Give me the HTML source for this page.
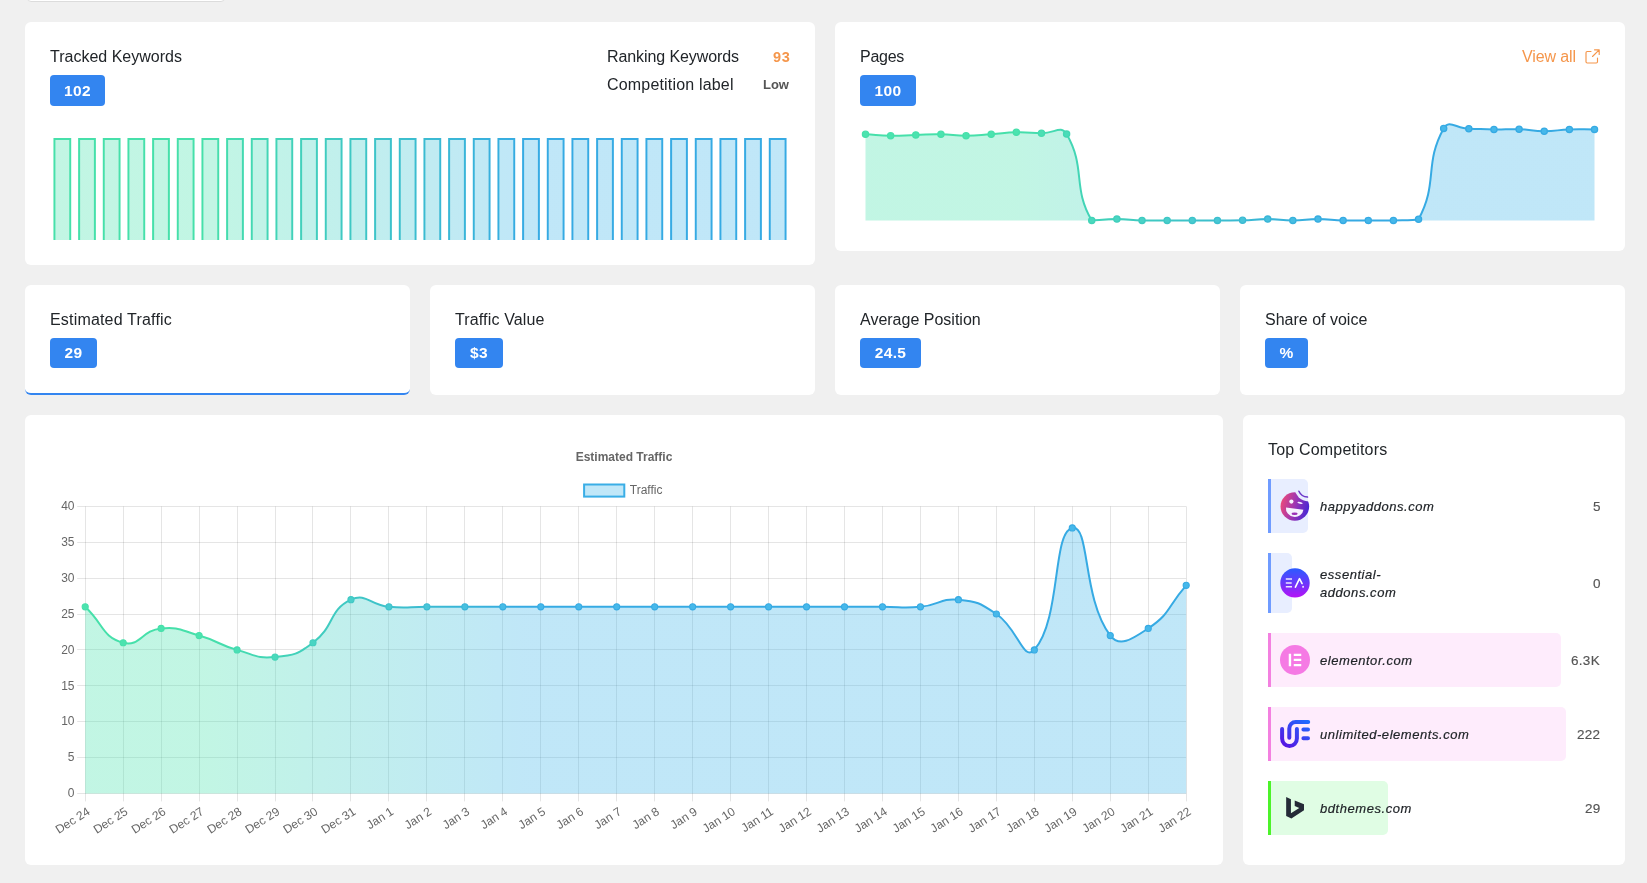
<!DOCTYPE html><html><head><meta charset="utf-8"><title>Dashboard</title><style>
*{box-sizing:border-box}
html,body{margin:0;padding:0}
body{width:1647px;height:883px;overflow:hidden;background:#f0f0f0;font-family:"Liberation Sans",sans-serif;color:#212529;position:relative}
.abs{position:absolute}
.t,.dom,.num,.badge,svg,.abs{will-change:transform}
.card{position:absolute;background:#fff;border-radius:6px}
.t{position:absolute;font-size:16px;line-height:20px;white-space:nowrap;color:#212529}
.badge{position:absolute;height:31px;background:#3385f0;border-radius:4px;color:#fff;font-weight:bold;font-size:15.5px;line-height:31px;text-align:center;letter-spacing:.3px}
.row{position:absolute;left:1268px;border-left:3px solid;border-radius:0 5px 5px 0}
.dom{position:absolute;left:1320px;font-size:13px;font-style:italic;line-height:18px;color:#212529;letter-spacing:.55px;white-space:nowrap;-webkit-text-stroke:.2px #212529}
.num{position:absolute;right:46.7px;font-size:13.5px;line-height:18px;color:#555;letter-spacing:.3px;-webkit-text-stroke:.15px #555;white-space:nowrap;text-align:right}
</style></head><body><div class="abs" style="left:27px;top:-30px;width:198px;height:32px;background:#fff;border:1px solid #dcdcdc;border-radius:4px"></div><div class="card" style="left:25px;top:22px;width:790px;height:243px"></div><div class="card" style="left:835px;top:22px;width:790px;height:229px"></div><div class="card" style="left:25px;top:285px;width:385px;height:110px;border-bottom:2px solid #3385f0"></div><div class="card" style="left:430px;top:285px;width:385px;height:110px"></div><div class="card" style="left:835px;top:285px;width:385px;height:110px"></div><div class="card" style="left:1240px;top:285px;width:385px;height:110px"></div><div class="card" style="left:25px;top:415px;width:1198px;height:450px"></div><div class="card" style="left:1243px;top:415px;width:382px;height:450px"></div><div class="t" style="left:50px;top:47px">Tracked Keywords</div><div class="badge" style="left:50px;top:75px;width:55px;height:31px;line-height:31px">102</div><div class="t" style="left:607px;top:47px;letter-spacing:-.09px">Ranking Keywords</div><div class="t" style="left:607px;top:75px;letter-spacing:.18px">Competition label</div><div class="abs" style="right:857.6px;top:49px;font-size:14.5px;line-height:16px;font-weight:bold;color:#f5964b;letter-spacing:.7px;margin-right:-.7px">93</div><div class="abs" style="right:857.8px;top:77px;font-size:13px;line-height:16px;font-weight:bold;color:#555;letter-spacing:-.05px">Low</div><svg class="abs" style="left:50px;top:125px" width="740" height="120" viewBox="50 125 740 120"><defs><linearGradient id="bl" gradientUnits="userSpaceOnUse" x1="205" y1="0" x2="525" y2="0"><stop offset="0" stop-color="#46e0aa"/><stop offset="1" stop-color="#36aae3"/></linearGradient><linearGradient id="bf" gradientUnits="userSpaceOnUse" x1="205" y1="0" x2="525" y2="0"><stop offset="0" stop-color="#4be3af"/><stop offset="1" stop-color="#46b8ea"/></linearGradient></defs><path fill-rule="evenodd" d="M53.45,138.00 H71.21 V240.00 H53.45 Z M55.45,140.00 H69.21 V240.00 H55.45 Z" fill="url(#bl)"/><rect x="55.12" y="139.67" width="14.42" height="100.33" fill="url(#bf)" fill-opacity="0.34"/><path fill-rule="evenodd" d="M78.12,138.00 H95.88 V240.00 H78.12 Z M80.12,140.00 H93.88 V240.00 H80.12 Z" fill="url(#bl)"/><rect x="79.79" y="139.67" width="14.42" height="100.33" fill="url(#bf)" fill-opacity="0.34"/><path fill-rule="evenodd" d="M102.79,138.00 H120.55 V240.00 H102.79 Z M104.79,140.00 H118.55 V240.00 H104.79 Z" fill="url(#bl)"/><rect x="104.46" y="139.67" width="14.42" height="100.33" fill="url(#bf)" fill-opacity="0.34"/><path fill-rule="evenodd" d="M127.45,138.00 H145.21 V240.00 H127.45 Z M129.45,140.00 H143.21 V240.00 H129.45 Z" fill="url(#bl)"/><rect x="129.12" y="139.67" width="14.42" height="100.33" fill="url(#bf)" fill-opacity="0.34"/><path fill-rule="evenodd" d="M152.12,138.00 H169.88 V240.00 H152.12 Z M154.12,140.00 H167.88 V240.00 H154.12 Z" fill="url(#bl)"/><rect x="153.79" y="139.67" width="14.42" height="100.33" fill="url(#bf)" fill-opacity="0.34"/><path fill-rule="evenodd" d="M176.79,138.00 H194.55 V240.00 H176.79 Z M178.79,140.00 H192.55 V240.00 H178.79 Z" fill="url(#bl)"/><rect x="178.46" y="139.67" width="14.42" height="100.33" fill="url(#bf)" fill-opacity="0.34"/><path fill-rule="evenodd" d="M201.45,138.00 H219.21 V240.00 H201.45 Z M203.45,140.00 H217.21 V240.00 H203.45 Z" fill="url(#bl)"/><rect x="203.12" y="139.67" width="14.42" height="100.33" fill="url(#bf)" fill-opacity="0.34"/><path fill-rule="evenodd" d="M226.12,138.00 H243.88 V240.00 H226.12 Z M228.12,140.00 H241.88 V240.00 H228.12 Z" fill="url(#bl)"/><rect x="227.79" y="139.67" width="14.42" height="100.33" fill="url(#bf)" fill-opacity="0.34"/><path fill-rule="evenodd" d="M250.79,138.00 H268.55 V240.00 H250.79 Z M252.79,140.00 H266.55 V240.00 H252.79 Z" fill="url(#bl)"/><rect x="252.46" y="139.67" width="14.42" height="100.33" fill="url(#bf)" fill-opacity="0.34"/><path fill-rule="evenodd" d="M275.45,138.00 H293.21 V240.00 H275.45 Z M277.45,140.00 H291.21 V240.00 H277.45 Z" fill="url(#bl)"/><rect x="277.12" y="139.67" width="14.42" height="100.33" fill="url(#bf)" fill-opacity="0.34"/><path fill-rule="evenodd" d="M300.12,138.00 H317.88 V240.00 H300.12 Z M302.12,140.00 H315.88 V240.00 H302.12 Z" fill="url(#bl)"/><rect x="301.79" y="139.67" width="14.42" height="100.33" fill="url(#bf)" fill-opacity="0.34"/><path fill-rule="evenodd" d="M324.79,138.00 H342.55 V240.00 H324.79 Z M326.79,140.00 H340.55 V240.00 H326.79 Z" fill="url(#bl)"/><rect x="326.46" y="139.67" width="14.42" height="100.33" fill="url(#bf)" fill-opacity="0.34"/><path fill-rule="evenodd" d="M349.45,138.00 H367.21 V240.00 H349.45 Z M351.45,140.00 H365.21 V240.00 H351.45 Z" fill="url(#bl)"/><rect x="351.12" y="139.67" width="14.42" height="100.33" fill="url(#bf)" fill-opacity="0.34"/><path fill-rule="evenodd" d="M374.12,138.00 H391.88 V240.00 H374.12 Z M376.12,140.00 H389.88 V240.00 H376.12 Z" fill="url(#bl)"/><rect x="375.79" y="139.67" width="14.42" height="100.33" fill="url(#bf)" fill-opacity="0.34"/><path fill-rule="evenodd" d="M398.79,138.00 H416.55 V240.00 H398.79 Z M400.79,140.00 H414.55 V240.00 H400.79 Z" fill="url(#bl)"/><rect x="400.46" y="139.67" width="14.42" height="100.33" fill="url(#bf)" fill-opacity="0.34"/><path fill-rule="evenodd" d="M423.45,138.00 H441.21 V240.00 H423.45 Z M425.45,140.00 H439.21 V240.00 H425.45 Z" fill="url(#bl)"/><rect x="425.12" y="139.67" width="14.42" height="100.33" fill="url(#bf)" fill-opacity="0.34"/><path fill-rule="evenodd" d="M448.12,138.00 H465.88 V240.00 H448.12 Z M450.12,140.00 H463.88 V240.00 H450.12 Z" fill="url(#bl)"/><rect x="449.79" y="139.67" width="14.42" height="100.33" fill="url(#bf)" fill-opacity="0.34"/><path fill-rule="evenodd" d="M472.79,138.00 H490.55 V240.00 H472.79 Z M474.79,140.00 H488.55 V240.00 H474.79 Z" fill="url(#bl)"/><rect x="474.46" y="139.67" width="14.42" height="100.33" fill="url(#bf)" fill-opacity="0.34"/><path fill-rule="evenodd" d="M497.45,138.00 H515.21 V240.00 H497.45 Z M499.45,140.00 H513.21 V240.00 H499.45 Z" fill="url(#bl)"/><rect x="499.12" y="139.67" width="14.42" height="100.33" fill="url(#bf)" fill-opacity="0.34"/><path fill-rule="evenodd" d="M522.12,138.00 H539.88 V240.00 H522.12 Z M524.12,140.00 H537.88 V240.00 H524.12 Z" fill="url(#bl)"/><rect x="523.79" y="139.67" width="14.42" height="100.33" fill="url(#bf)" fill-opacity="0.34"/><path fill-rule="evenodd" d="M546.79,138.00 H564.55 V240.00 H546.79 Z M548.79,140.00 H562.55 V240.00 H548.79 Z" fill="url(#bl)"/><rect x="548.46" y="139.67" width="14.42" height="100.33" fill="url(#bf)" fill-opacity="0.34"/><path fill-rule="evenodd" d="M571.45,138.00 H589.21 V240.00 H571.45 Z M573.45,140.00 H587.21 V240.00 H573.45 Z" fill="url(#bl)"/><rect x="573.12" y="139.67" width="14.42" height="100.33" fill="url(#bf)" fill-opacity="0.34"/><path fill-rule="evenodd" d="M596.12,138.00 H613.88 V240.00 H596.12 Z M598.12,140.00 H611.88 V240.00 H598.12 Z" fill="url(#bl)"/><rect x="597.79" y="139.67" width="14.42" height="100.33" fill="url(#bf)" fill-opacity="0.34"/><path fill-rule="evenodd" d="M620.79,138.00 H638.55 V240.00 H620.79 Z M622.79,140.00 H636.55 V240.00 H622.79 Z" fill="url(#bl)"/><rect x="622.46" y="139.67" width="14.42" height="100.33" fill="url(#bf)" fill-opacity="0.34"/><path fill-rule="evenodd" d="M645.45,138.00 H663.21 V240.00 H645.45 Z M647.45,140.00 H661.21 V240.00 H647.45 Z" fill="url(#bl)"/><rect x="647.12" y="139.67" width="14.42" height="100.33" fill="url(#bf)" fill-opacity="0.34"/><path fill-rule="evenodd" d="M670.12,138.00 H687.88 V240.00 H670.12 Z M672.12,140.00 H685.88 V240.00 H672.12 Z" fill="url(#bl)"/><rect x="671.79" y="139.67" width="14.42" height="100.33" fill="url(#bf)" fill-opacity="0.34"/><path fill-rule="evenodd" d="M694.79,138.00 H712.55 V240.00 H694.79 Z M696.79,140.00 H710.55 V240.00 H696.79 Z" fill="url(#bl)"/><rect x="696.46" y="139.67" width="14.42" height="100.33" fill="url(#bf)" fill-opacity="0.34"/><path fill-rule="evenodd" d="M719.45,138.00 H737.21 V240.00 H719.45 Z M721.45,140.00 H735.21 V240.00 H721.45 Z" fill="url(#bl)"/><rect x="721.12" y="139.67" width="14.42" height="100.33" fill="url(#bf)" fill-opacity="0.34"/><path fill-rule="evenodd" d="M744.12,138.00 H761.88 V240.00 H744.12 Z M746.12,140.00 H759.88 V240.00 H746.12 Z" fill="url(#bl)"/><rect x="745.79" y="139.67" width="14.42" height="100.33" fill="url(#bf)" fill-opacity="0.34"/><path fill-rule="evenodd" d="M768.79,138.00 H786.55 V240.00 H768.79 Z M770.79,140.00 H784.55 V240.00 H770.79 Z" fill="url(#bl)"/><rect x="770.46" y="139.67" width="14.42" height="100.33" fill="url(#bf)" fill-opacity="0.34"/></svg><div class="t" style="left:860px;top:47px;letter-spacing:-.25px">Pages</div><div class="badge" style="left:860px;top:75px;width:56px;height:31px;line-height:31px">100</div><div class="t" style="left:1522px;top:47px;color:#f5964b;letter-spacing:-.12px">View all</div><svg class="abs" style="left:1584px;top:48px" width="17" height="17" viewBox="0 0 17 17" fill="none" stroke="#f5964b" stroke-width="1.15" stroke-linecap="round" stroke-linejoin="round"><path d="M7 3.5H3.2C2.5 3.5 2 4 2 4.7v9.1C2 14.5 2.5 15 3.2 15h9.1c.7 0 1.2-.5 1.2-1.200V10"/><path d="M10.500 1.800h4.700v4.700M15.200 1.800L8.500 8.500"/></svg><svg class="abs" style="left:855px;top:110px" width="750" height="125" viewBox="855 110 750 125"><defs><linearGradient id="pl" gradientUnits="userSpaceOnUse" x1="1015" y1="0" x2="1335" y2="0"><stop offset="0" stop-color="#46e0aa"/><stop offset="1" stop-color="#36aae3"/></linearGradient><linearGradient id="pf" gradientUnits="userSpaceOnUse" x1="1015" y1="0" x2="1335" y2="0"><stop offset="0" stop-color="#4be3af"/><stop offset="1" stop-color="#46b8ea"/></linearGradient></defs><path d="M865.50,134.30 C878.07,135.05 878.06,135.65 890.64,135.80 C903.20,135.95 903.20,135.28 915.78,134.90 C928.34,134.53 928.35,134.08 940.91,134.30 C953.49,134.53 953.48,135.80 966.05,135.80 C978.62,135.80 978.63,135.17 991.19,134.30 C1003.77,133.42 1003.74,132.58 1016.33,132.30 C1028.88,132.03 1028.90,132.75 1041.47,133.20 C1054.03,133.65 1061.11,124.57 1066.60,134.10 C1086.24,168.17 1072.10,187.20 1091.74,220.40 C1097.24,220.40 1104.31,219.10 1116.88,219.10 C1129.45,219.10 1129.44,220.07 1142.02,220.40 C1154.58,220.40 1154.59,220.40 1167.16,220.40 C1179.72,220.40 1179.72,220.40 1192.29,220.40 C1204.86,220.40 1204.86,220.40 1217.43,220.40 C1230.00,220.37 1230.01,220.40 1242.57,220.30 C1255.15,219.97 1255.14,219.08 1267.71,219.10 C1280.28,219.13 1280.28,220.40 1292.84,220.40 C1305.41,220.40 1305.41,219.10 1317.98,219.10 C1330.55,219.10 1330.54,220.07 1343.12,220.40 C1355.68,220.40 1355.69,220.40 1368.26,220.40 C1380.83,220.40 1380.83,220.40 1393.40,220.40 C1405.97,220.10 1413.24,220.40 1418.53,219.20 C1438.37,182.90 1423.83,164.12 1443.67,128.40 C1448.97,118.87 1456.24,128.43 1468.81,128.70 C1481.38,128.98 1481.38,129.35 1493.95,129.50 C1506.51,129.65 1506.53,128.88 1519.09,129.30 C1531.67,129.73 1531.65,131.17 1544.22,131.20 C1556.79,131.22 1556.78,129.85 1569.36,129.40 C1581.91,128.95 1581.93,129.40 1594.50,129.40 L1594.50,220.40 L865.50,220.40 Z" fill="url(#pf)" fill-opacity="0.34"/><path d="M865.50,134.30 C878.07,135.05 878.06,135.65 890.64,135.80 C903.20,135.95 903.20,135.28 915.78,134.90 C928.34,134.53 928.35,134.08 940.91,134.30 C953.49,134.53 953.48,135.80 966.05,135.80 C978.62,135.80 978.63,135.17 991.19,134.30 C1003.77,133.42 1003.74,132.58 1016.33,132.30 C1028.88,132.03 1028.90,132.75 1041.47,133.20 C1054.03,133.65 1061.11,124.57 1066.60,134.10 C1086.24,168.17 1072.10,187.20 1091.74,220.40 C1097.24,220.40 1104.31,219.10 1116.88,219.10 C1129.45,219.10 1129.44,220.07 1142.02,220.40 C1154.58,220.40 1154.59,220.40 1167.16,220.40 C1179.72,220.40 1179.72,220.40 1192.29,220.40 C1204.86,220.40 1204.86,220.40 1217.43,220.40 C1230.00,220.37 1230.01,220.40 1242.57,220.30 C1255.15,219.97 1255.14,219.08 1267.71,219.10 C1280.28,219.13 1280.28,220.40 1292.84,220.40 C1305.41,220.40 1305.41,219.10 1317.98,219.10 C1330.55,219.10 1330.54,220.07 1343.12,220.40 C1355.68,220.40 1355.69,220.40 1368.26,220.40 C1380.83,220.40 1380.83,220.40 1393.40,220.40 C1405.97,220.10 1413.24,220.40 1418.53,219.20 C1438.37,182.90 1423.83,164.12 1443.67,128.40 C1448.97,118.87 1456.24,128.43 1468.81,128.70 C1481.38,128.98 1481.38,129.35 1493.95,129.50 C1506.51,129.65 1506.53,128.88 1519.09,129.30 C1531.67,129.73 1531.65,131.17 1544.22,131.20 C1556.79,131.22 1556.78,129.85 1569.36,129.40 C1581.91,128.95 1581.93,129.40 1594.50,129.40" fill="none" stroke="url(#pl)" stroke-width="2" stroke-linejoin="round"/><circle cx="865.50" cy="134.30" r="3.1" fill="url(#pf)" stroke="url(#pl)" stroke-width="1.3"/><circle cx="890.64" cy="135.80" r="3.1" fill="url(#pf)" stroke="url(#pl)" stroke-width="1.3"/><circle cx="915.78" cy="134.90" r="3.1" fill="url(#pf)" stroke="url(#pl)" stroke-width="1.3"/><circle cx="940.91" cy="134.30" r="3.1" fill="url(#pf)" stroke="url(#pl)" stroke-width="1.3"/><circle cx="966.05" cy="135.80" r="3.1" fill="url(#pf)" stroke="url(#pl)" stroke-width="1.3"/><circle cx="991.19" cy="134.30" r="3.1" fill="url(#pf)" stroke="url(#pl)" stroke-width="1.3"/><circle cx="1016.33" cy="132.30" r="3.1" fill="url(#pf)" stroke="url(#pl)" stroke-width="1.3"/><circle cx="1041.47" cy="133.20" r="3.1" fill="url(#pf)" stroke="url(#pl)" stroke-width="1.3"/><circle cx="1066.60" cy="134.10" r="3.1" fill="url(#pf)" stroke="url(#pl)" stroke-width="1.3"/><circle cx="1091.74" cy="220.40" r="3.1" fill="url(#pf)" stroke="url(#pl)" stroke-width="1.3"/><circle cx="1116.88" cy="219.10" r="3.1" fill="url(#pf)" stroke="url(#pl)" stroke-width="1.3"/><circle cx="1142.02" cy="220.40" r="3.1" fill="url(#pf)" stroke="url(#pl)" stroke-width="1.3"/><circle cx="1167.16" cy="220.40" r="3.1" fill="url(#pf)" stroke="url(#pl)" stroke-width="1.3"/><circle cx="1192.29" cy="220.40" r="3.1" fill="url(#pf)" stroke="url(#pl)" stroke-width="1.3"/><circle cx="1217.43" cy="220.40" r="3.1" fill="url(#pf)" stroke="url(#pl)" stroke-width="1.3"/><circle cx="1242.57" cy="220.30" r="3.1" fill="url(#pf)" stroke="url(#pl)" stroke-width="1.3"/><circle cx="1267.71" cy="219.10" r="3.1" fill="url(#pf)" stroke="url(#pl)" stroke-width="1.3"/><circle cx="1292.84" cy="220.40" r="3.1" fill="url(#pf)" stroke="url(#pl)" stroke-width="1.3"/><circle cx="1317.98" cy="219.10" r="3.1" fill="url(#pf)" stroke="url(#pl)" stroke-width="1.3"/><circle cx="1343.12" cy="220.40" r="3.1" fill="url(#pf)" stroke="url(#pl)" stroke-width="1.3"/><circle cx="1368.26" cy="220.40" r="3.1" fill="url(#pf)" stroke="url(#pl)" stroke-width="1.3"/><circle cx="1393.40" cy="220.40" r="3.1" fill="url(#pf)" stroke="url(#pl)" stroke-width="1.3"/><circle cx="1418.53" cy="219.20" r="3.1" fill="url(#pf)" stroke="url(#pl)" stroke-width="1.3"/><circle cx="1443.67" cy="128.40" r="3.1" fill="url(#pf)" stroke="url(#pl)" stroke-width="1.3"/><circle cx="1468.81" cy="128.70" r="3.1" fill="url(#pf)" stroke="url(#pl)" stroke-width="1.3"/><circle cx="1493.95" cy="129.50" r="3.1" fill="url(#pf)" stroke="url(#pl)" stroke-width="1.3"/><circle cx="1519.09" cy="129.30" r="3.1" fill="url(#pf)" stroke="url(#pl)" stroke-width="1.3"/><circle cx="1544.22" cy="131.20" r="3.1" fill="url(#pf)" stroke="url(#pl)" stroke-width="1.3"/><circle cx="1569.36" cy="129.40" r="3.1" fill="url(#pf)" stroke="url(#pl)" stroke-width="1.3"/><circle cx="1594.50" cy="129.40" r="3.1" fill="url(#pf)" stroke="url(#pl)" stroke-width="1.3"/></svg><div class="t" style="left:50px;top:310px;letter-spacing:.18px">Estimated Traffic</div><div class="badge" style="left:50px;top:338px;width:47px;height:30px;line-height:30px">29</div><div class="t" style="left:455px;top:310px;letter-spacing:.14px">Traffic Value</div><div class="badge" style="left:455px;top:338px;width:48px;height:30px;line-height:30px">$3</div><div class="t" style="left:860px;top:310px">Average Position</div><div class="badge" style="left:860px;top:338px;width:61px;height:30px;line-height:30px">24.5</div><div class="t" style="left:1265px;top:310px">Share of voice</div><div class="badge" style="left:1265px;top:338px;width:43px;height:30px;line-height:30px">%</div><svg class="abs" style="left:50px;top:440px" width="1148" height="400" viewBox="50 440 1148 400" font-family="Liberation Sans, sans-serif"><defs><linearGradient id="ml" gradientUnits="userSpaceOnUse" x1="205" y1="0" x2="525" y2="0"><stop offset="0" stop-color="#46e0aa"/><stop offset="1" stop-color="#36aae3"/></linearGradient><linearGradient id="mf" gradientUnits="userSpaceOnUse" x1="205" y1="0" x2="525" y2="0"><stop offset="0" stop-color="#4be3af"/><stop offset="1" stop-color="#46b8ea"/></linearGradient></defs><text x="624" y="457.4" text-anchor="middle" dominant-baseline="middle" font-size="12" font-weight="bold" fill="#666">Estimated Traffic</text><rect x="584.1" y="484.5" width="40.2" height="12.100" fill="#46b8ea" fill-opacity="0.34"/><rect x="584.1" y="484.5" width="40.2" height="12.100" fill="none" stroke="#3aaee6" stroke-width="2"/><text x="629.8" y="490.6" dominant-baseline="middle" font-size="12" fill="#666">Traffic</text><path d="M85.5,506.4 V801.4 M123.5,506.4 V801.4 M161.5,506.4 V801.4 M199.5,506.4 V801.4 M237.5,506.4 V801.4 M275.5,506.4 V801.4 M312.5,506.4 V801.4 M350.5,506.4 V801.4 M388.5,506.4 V801.4 M426.5,506.4 V801.4 M464.5,506.4 V801.4 M502.5,506.4 V801.4 M540.5,506.4 V801.4 M578.5,506.4 V801.4 M616.5,506.4 V801.4 M654.5,506.4 V801.4 M692.5,506.4 V801.4 M730.5,506.4 V801.4 M768.5,506.4 V801.4 M806.5,506.4 V801.4 M844.5,506.4 V801.4 M882.5,506.4 V801.4 M920.5,506.4 V801.4 M958.5,506.4 V801.4 M996.5,506.4 V801.4 M1034.5,506.4 V801.4 M1072.5,506.4 V801.4 M1110.5,506.4 V801.4 M1148.5,506.4 V801.4 M1186.5,506.4 V801.4 M77.2,793.5 H1186.2 M77.2,757.5 H1186.2 M77.2,721.5 H1186.2 M77.2,685.5 H1186.2 M77.2,649.5 H1186.2 M77.2,614.5 H1186.2 M77.2,578.5 H1186.2 M77.2,542.5 H1186.2 M77.2,506.5 H1186.2 " stroke="rgba(0,0,0,0.1)" stroke-width="1" fill="none"/><text x="74.5" y="794.0" text-anchor="end" dominant-baseline="middle" font-size="12" fill="#666">0</text><text x="74.5" y="758.1" text-anchor="end" dominant-baseline="middle" font-size="12" fill="#666">5</text><text x="74.5" y="722.2" text-anchor="end" dominant-baseline="middle" font-size="12" fill="#666">10</text><text x="74.5" y="686.4" text-anchor="end" dominant-baseline="middle" font-size="12" fill="#666">15</text><text x="74.5" y="650.5" text-anchor="end" dominant-baseline="middle" font-size="12" fill="#666">20</text><text x="74.5" y="614.6" text-anchor="end" dominant-baseline="middle" font-size="12" fill="#666">25</text><text x="74.5" y="578.8" text-anchor="end" dominant-baseline="middle" font-size="12" fill="#666">30</text><text x="74.5" y="542.9" text-anchor="end" dominant-baseline="middle" font-size="12" fill="#666">35</text><text x="74.5" y="507.0" text-anchor="end" dominant-baseline="middle" font-size="12" fill="#666">40</text><text transform="translate(85.20,804.90) rotate(-32.5)" x="0" y="7.2" text-anchor="end" dominant-baseline="middle" font-size="12" fill="#666">Dec 24</text><text transform="translate(123.17,804.90) rotate(-32.5)" x="0" y="7.2" text-anchor="end" dominant-baseline="middle" font-size="12" fill="#666">Dec 25</text><text transform="translate(161.13,804.90) rotate(-32.5)" x="0" y="7.2" text-anchor="end" dominant-baseline="middle" font-size="12" fill="#666">Dec 26</text><text transform="translate(199.10,804.90) rotate(-32.5)" x="0" y="7.2" text-anchor="end" dominant-baseline="middle" font-size="12" fill="#666">Dec 27</text><text transform="translate(237.06,804.90) rotate(-32.5)" x="0" y="7.2" text-anchor="end" dominant-baseline="middle" font-size="12" fill="#666">Dec 28</text><text transform="translate(275.03,804.90) rotate(-32.5)" x="0" y="7.2" text-anchor="end" dominant-baseline="middle" font-size="12" fill="#666">Dec 29</text><text transform="translate(312.99,804.90) rotate(-32.5)" x="0" y="7.2" text-anchor="end" dominant-baseline="middle" font-size="12" fill="#666">Dec 30</text><text transform="translate(350.96,804.90) rotate(-32.5)" x="0" y="7.2" text-anchor="end" dominant-baseline="middle" font-size="12" fill="#666">Dec 31</text><text transform="translate(388.92,804.90) rotate(-32.5)" x="0" y="7.2" text-anchor="end" dominant-baseline="middle" font-size="12" fill="#666">Jan 1</text><text transform="translate(426.89,804.90) rotate(-32.5)" x="0" y="7.2" text-anchor="end" dominant-baseline="middle" font-size="12" fill="#666">Jan 2</text><text transform="translate(464.86,804.90) rotate(-32.5)" x="0" y="7.2" text-anchor="end" dominant-baseline="middle" font-size="12" fill="#666">Jan 3</text><text transform="translate(502.82,804.90) rotate(-32.5)" x="0" y="7.2" text-anchor="end" dominant-baseline="middle" font-size="12" fill="#666">Jan 4</text><text transform="translate(540.79,804.90) rotate(-32.5)" x="0" y="7.2" text-anchor="end" dominant-baseline="middle" font-size="12" fill="#666">Jan 5</text><text transform="translate(578.75,804.90) rotate(-32.5)" x="0" y="7.2" text-anchor="end" dominant-baseline="middle" font-size="12" fill="#666">Jan 6</text><text transform="translate(616.72,804.90) rotate(-32.5)" x="0" y="7.2" text-anchor="end" dominant-baseline="middle" font-size="12" fill="#666">Jan 7</text><text transform="translate(654.68,804.90) rotate(-32.5)" x="0" y="7.2" text-anchor="end" dominant-baseline="middle" font-size="12" fill="#666">Jan 8</text><text transform="translate(692.65,804.90) rotate(-32.5)" x="0" y="7.2" text-anchor="end" dominant-baseline="middle" font-size="12" fill="#666">Jan 9</text><text transform="translate(730.61,804.90) rotate(-32.5)" x="0" y="7.2" text-anchor="end" dominant-baseline="middle" font-size="12" fill="#666">Jan 10</text><text transform="translate(768.58,804.90) rotate(-32.5)" x="0" y="7.2" text-anchor="end" dominant-baseline="middle" font-size="12" fill="#666">Jan 11</text><text transform="translate(806.54,804.90) rotate(-32.5)" x="0" y="7.2" text-anchor="end" dominant-baseline="middle" font-size="12" fill="#666">Jan 12</text><text transform="translate(844.51,804.90) rotate(-32.5)" x="0" y="7.2" text-anchor="end" dominant-baseline="middle" font-size="12" fill="#666">Jan 13</text><text transform="translate(882.48,804.90) rotate(-32.5)" x="0" y="7.2" text-anchor="end" dominant-baseline="middle" font-size="12" fill="#666">Jan 14</text><text transform="translate(920.44,804.90) rotate(-32.5)" x="0" y="7.2" text-anchor="end" dominant-baseline="middle" font-size="12" fill="#666">Jan 15</text><text transform="translate(958.41,804.90) rotate(-32.5)" x="0" y="7.2" text-anchor="end" dominant-baseline="middle" font-size="12" fill="#666">Jan 16</text><text transform="translate(996.37,804.90) rotate(-32.5)" x="0" y="7.2" text-anchor="end" dominant-baseline="middle" font-size="12" fill="#666">Jan 17</text><text transform="translate(1034.34,804.90) rotate(-32.5)" x="0" y="7.2" text-anchor="end" dominant-baseline="middle" font-size="12" fill="#666">Jan 18</text><text transform="translate(1072.30,804.90) rotate(-32.5)" x="0" y="7.2" text-anchor="end" dominant-baseline="middle" font-size="12" fill="#666">Jan 19</text><text transform="translate(1110.27,804.90) rotate(-32.5)" x="0" y="7.2" text-anchor="end" dominant-baseline="middle" font-size="12" fill="#666">Jan 20</text><text transform="translate(1148.23,804.90) rotate(-32.5)" x="0" y="7.2" text-anchor="end" dominant-baseline="middle" font-size="12" fill="#666">Jan 21</text><text transform="translate(1186.20,804.90) rotate(-32.5)" x="0" y="7.2" text-anchor="end" dominant-baseline="middle" font-size="12" fill="#666">Jan 22</text><path d="M85.20,606.85 C104.18,624.79 101.80,636.67 123.17,642.73 C139.77,647.43 141.68,630.21 161.13,628.38 C179.65,626.63 180.58,630.30 199.10,635.55 C218.55,641.06 217.61,644.39 237.06,649.90 C255.58,655.15 256.51,658.82 275.03,657.08 C294.48,655.24 297.27,654.61 312.99,642.73 C335.23,625.91 328.27,610.40 350.96,599.67 C366.23,592.46 369.77,605.04 388.92,606.85 C407.74,608.63 407.91,606.85 426.89,606.85 C445.87,606.85 445.87,606.85 464.86,606.85 C483.84,606.85 483.84,606.85 502.82,606.85 C521.80,606.85 521.80,606.85 540.79,606.85 C559.77,606.85 559.77,606.85 578.75,606.85 C597.73,606.85 597.73,606.85 616.72,606.85 C635.70,606.85 635.70,606.85 654.68,606.85 C673.67,606.85 673.67,606.85 692.65,606.85 C711.63,606.85 711.63,606.85 730.61,606.85 C749.60,606.85 749.60,606.85 768.58,606.85 C787.56,606.85 787.56,606.85 806.54,606.85 C825.53,606.85 825.53,606.85 844.51,606.85 C863.49,606.85 863.49,606.85 882.48,606.85 C901.46,606.85 901.63,608.63 920.44,606.85 C939.59,605.04 939.89,597.93 958.41,599.67 C977.86,601.51 979.77,603.04 996.37,614.02 C1017.74,628.16 1023.32,662.39 1034.34,649.90 C1061.29,619.34 1052.25,531.71 1072.30,527.92 C1090.22,524.54 1081.91,598.03 1110.27,635.55 C1119.87,648.25 1132.96,638.48 1148.23,628.38 C1170.93,613.37 1167.22,606.85 1186.20,585.33 L1186.20,793.40 L85.20,793.40 Z" fill="url(#mf)" fill-opacity="0.34"/><path d="M85.20,606.85 C104.18,624.79 101.80,636.67 123.17,642.73 C139.77,647.43 141.68,630.21 161.13,628.38 C179.65,626.63 180.58,630.30 199.10,635.55 C218.55,641.06 217.61,644.39 237.06,649.90 C255.58,655.15 256.51,658.82 275.03,657.08 C294.48,655.24 297.27,654.61 312.99,642.73 C335.23,625.91 328.27,610.40 350.96,599.67 C366.23,592.46 369.77,605.04 388.92,606.85 C407.74,608.63 407.91,606.85 426.89,606.85 C445.87,606.85 445.87,606.85 464.86,606.85 C483.84,606.85 483.84,606.85 502.82,606.85 C521.80,606.85 521.80,606.85 540.79,606.85 C559.77,606.85 559.77,606.85 578.75,606.85 C597.73,606.85 597.73,606.85 616.72,606.85 C635.70,606.85 635.70,606.85 654.68,606.85 C673.67,606.85 673.67,606.85 692.65,606.85 C711.63,606.85 711.63,606.85 730.61,606.85 C749.60,606.85 749.60,606.85 768.58,606.85 C787.56,606.85 787.56,606.85 806.54,606.85 C825.53,606.85 825.53,606.85 844.51,606.85 C863.49,606.85 863.49,606.85 882.48,606.85 C901.46,606.85 901.63,608.63 920.44,606.85 C939.59,605.04 939.89,597.93 958.41,599.67 C977.86,601.51 979.77,603.04 996.37,614.02 C1017.74,628.16 1023.32,662.39 1034.34,649.90 C1061.29,619.34 1052.25,531.71 1072.30,527.92 C1090.22,524.54 1081.91,598.03 1110.27,635.55 C1119.87,648.25 1132.96,638.48 1148.23,628.38 C1170.93,613.37 1167.22,606.85 1186.20,585.33" fill="none" stroke="url(#ml)" stroke-width="2" stroke-linejoin="round"/><circle cx="85.20" cy="606.85" r="3.05" fill="url(#mf)" stroke="url(#ml)" stroke-width="1.1"/><circle cx="123.17" cy="642.73" r="3.05" fill="url(#mf)" stroke="url(#ml)" stroke-width="1.1"/><circle cx="161.13" cy="628.38" r="3.05" fill="url(#mf)" stroke="url(#ml)" stroke-width="1.1"/><circle cx="199.10" cy="635.55" r="3.05" fill="url(#mf)" stroke="url(#ml)" stroke-width="1.1"/><circle cx="237.06" cy="649.90" r="3.05" fill="url(#mf)" stroke="url(#ml)" stroke-width="1.1"/><circle cx="275.03" cy="657.08" r="3.05" fill="url(#mf)" stroke="url(#ml)" stroke-width="1.1"/><circle cx="312.99" cy="642.73" r="3.05" fill="url(#mf)" stroke="url(#ml)" stroke-width="1.1"/><circle cx="350.96" cy="599.67" r="3.05" fill="url(#mf)" stroke="url(#ml)" stroke-width="1.1"/><circle cx="388.92" cy="606.85" r="3.05" fill="url(#mf)" stroke="url(#ml)" stroke-width="1.1"/><circle cx="426.89" cy="606.85" r="3.05" fill="url(#mf)" stroke="url(#ml)" stroke-width="1.1"/><circle cx="464.86" cy="606.85" r="3.05" fill="url(#mf)" stroke="url(#ml)" stroke-width="1.1"/><circle cx="502.82" cy="606.85" r="3.05" fill="url(#mf)" stroke="url(#ml)" stroke-width="1.1"/><circle cx="540.79" cy="606.85" r="3.05" fill="url(#mf)" stroke="url(#ml)" stroke-width="1.1"/><circle cx="578.75" cy="606.85" r="3.05" fill="url(#mf)" stroke="url(#ml)" stroke-width="1.1"/><circle cx="616.72" cy="606.85" r="3.05" fill="url(#mf)" stroke="url(#ml)" stroke-width="1.1"/><circle cx="654.68" cy="606.85" r="3.05" fill="url(#mf)" stroke="url(#ml)" stroke-width="1.1"/><circle cx="692.65" cy="606.85" r="3.05" fill="url(#mf)" stroke="url(#ml)" stroke-width="1.1"/><circle cx="730.61" cy="606.85" r="3.05" fill="url(#mf)" stroke="url(#ml)" stroke-width="1.1"/><circle cx="768.58" cy="606.85" r="3.05" fill="url(#mf)" stroke="url(#ml)" stroke-width="1.1"/><circle cx="806.54" cy="606.85" r="3.05" fill="url(#mf)" stroke="url(#ml)" stroke-width="1.1"/><circle cx="844.51" cy="606.85" r="3.05" fill="url(#mf)" stroke="url(#ml)" stroke-width="1.1"/><circle cx="882.48" cy="606.85" r="3.05" fill="url(#mf)" stroke="url(#ml)" stroke-width="1.1"/><circle cx="920.44" cy="606.85" r="3.05" fill="url(#mf)" stroke="url(#ml)" stroke-width="1.1"/><circle cx="958.41" cy="599.67" r="3.05" fill="url(#mf)" stroke="url(#ml)" stroke-width="1.1"/><circle cx="996.37" cy="614.02" r="3.05" fill="url(#mf)" stroke="url(#ml)" stroke-width="1.1"/><circle cx="1034.34" cy="649.90" r="3.05" fill="url(#mf)" stroke="url(#ml)" stroke-width="1.1"/><circle cx="1072.30" cy="527.92" r="3.05" fill="url(#mf)" stroke="url(#ml)" stroke-width="1.1"/><circle cx="1110.27" cy="635.55" r="3.05" fill="url(#mf)" stroke="url(#ml)" stroke-width="1.1"/><circle cx="1148.23" cy="628.38" r="3.05" fill="url(#mf)" stroke="url(#ml)" stroke-width="1.1"/><circle cx="1186.20" cy="585.33" r="3.05" fill="url(#mf)" stroke="url(#ml)" stroke-width="1.1"/></svg><div class="t" style="left:1268px;top:440px;letter-spacing:.19px">Top Competitors</div><div class="row" style="top:479px;height:54px;width:40px;border-color:#6f9bff;background:#e8eeff"></div><div class="dom" style="top:498px">happyaddons.com</div><div class="num" style="top:498px">5</div><div class="row" style="top:553px;height:60px;width:24px;border-color:#6f9bff;background:#e8eeff"></div><div class="dom" style="top:566px">essential-<br>addons.com</div><div class="num" style="top:575px">0</div><div class="row" style="top:633px;height:54px;width:293px;border-color:#f380e0;background:#feecfc"></div><div class="dom" style="top:652px">elementor.com</div><div class="num" style="top:652px">6.3K</div><div class="row" style="top:707px;height:54px;width:298px;border-color:#f380e0;background:#feecfc"></div><div class="dom" style="top:726px">unlimited-elements.com</div><div class="num" style="top:726px">222</div><div class="row" style="top:781px;height:54px;width:120px;border-color:#4cf32a;background:#e0fde4"></div><div class="dom" style="top:800px">bdthemes.com</div><div class="num" style="top:800px">29</div><svg class="abs" style="left:1275px;top:480px" width="40" height="350" viewBox="1275 480 40 350"><defs><linearGradient id="ha" gradientUnits="userSpaceOnUse" x1="1281" y1="503" x2="1309" y2="510"><stop offset="0" stop-color="#e8487c"/><stop offset=".5" stop-color="#9a35b4"/><stop offset="1" stop-color="#4527d4"/></linearGradient><linearGradient id="ea" gradientUnits="userSpaceOnUse" x1="0" y1="568" x2="0" y2="598"><stop offset="0" stop-color="#2a5cff"/><stop offset=".5" stop-color="#6a38fb"/><stop offset="1" stop-color="#b810f6"/></linearGradient><linearGradient id="ue" gradientUnits="userSpaceOnUse" x1="1284" y1="748" x2="1306" y2="720"><stop offset="0" stop-color="#5a0fe0"/><stop offset="1" stop-color="#1f6cff"/></linearGradient><mask id="hm"><rect x="1275" y="480" width="40" height="50" fill="#fff"/><circle cx="1308.5" cy="487.4" r="14" fill="#000"/></mask></defs><g><circle cx="1294.85" cy="506.5" r="14.3" fill="url(#ha)" mask="url(#hm)"/><path d="M1298.9,491.3 A9.9,9.9 0 0 0 1307.5,497.1" fill="none" stroke="#6a35c9" stroke-width="1.5" stroke-linecap="round"/><circle cx="1291.4" cy="501.6" r="2.1" fill="#f7f4ff"/><ellipse cx="1300" cy="502.9" rx="2.7" ry="0.95" fill="#f3ecff" transform="rotate(14 1300 502.9)"/><path d="M-8.8,0 H8.8 A8.8,8.3 0 0 1 -8.800,0 Z" fill="#f6f2ff" transform="translate(1294.7,508.6) rotate(7.5)"/><ellipse cx="1294.6" cy="513.8" rx="3.1" ry="1.25" fill="#9a2fb6"/></g><g><circle cx="1295" cy="582.9" r="14.7" fill="url(#ea)"/><path d="M1285.8,578.9 H1292 M1285.8,582.9 H1291.7 M1285.8,586.8 H1292" stroke="#f4efff" stroke-width="1.55" fill="none" opacity=".95"/><path d="M1295.4,587.2 L1299.5,578.6 L1302.1,583.6" stroke="#fff" stroke-width="1.6" fill="none" stroke-linecap="round" stroke-linejoin="round"/><rect x="1302.2" y="585.9" width="1.8" height="1.8" fill="#e9d8ff"/></g><g><circle cx="1295" cy="659.9" r="15" fill="#f57ae4"/><path d="M1288.75,653.7h2.4v12.5h-2.4z M1293.75,653.7h7.5v2.3h-7.5z M1293.75,658.8h7.5v2.300h-7.5z M1293.75,663.9h7.5v2.3h-7.5z" fill="#fff"/></g><g fill="none" stroke="url(#ue)" stroke-width="4" stroke-linecap="round"><path d="M1282.1,728.9 V738.6 A7.4,7.4 0 0 0 1296.9,738.6 V728.900"/><path d="M1289.3,737.7 V728.4 A6.4,6.4 0 0 1 1295.7,722 H1308.2"/><path d="M1303.4,729.6 H1308 M1303.4,738.2 H1308"/></g><path d="M1286.17,796.99 L1290.93,799.36 L1290.93,813.15 L1299.25,807.92 L1294.73,806.02 L1294.73,800.55 L1304,804.36 L1304,810.3 L1291.4,818.62 L1286.17,816 Z" fill="#252b37"/></svg></body></html>
